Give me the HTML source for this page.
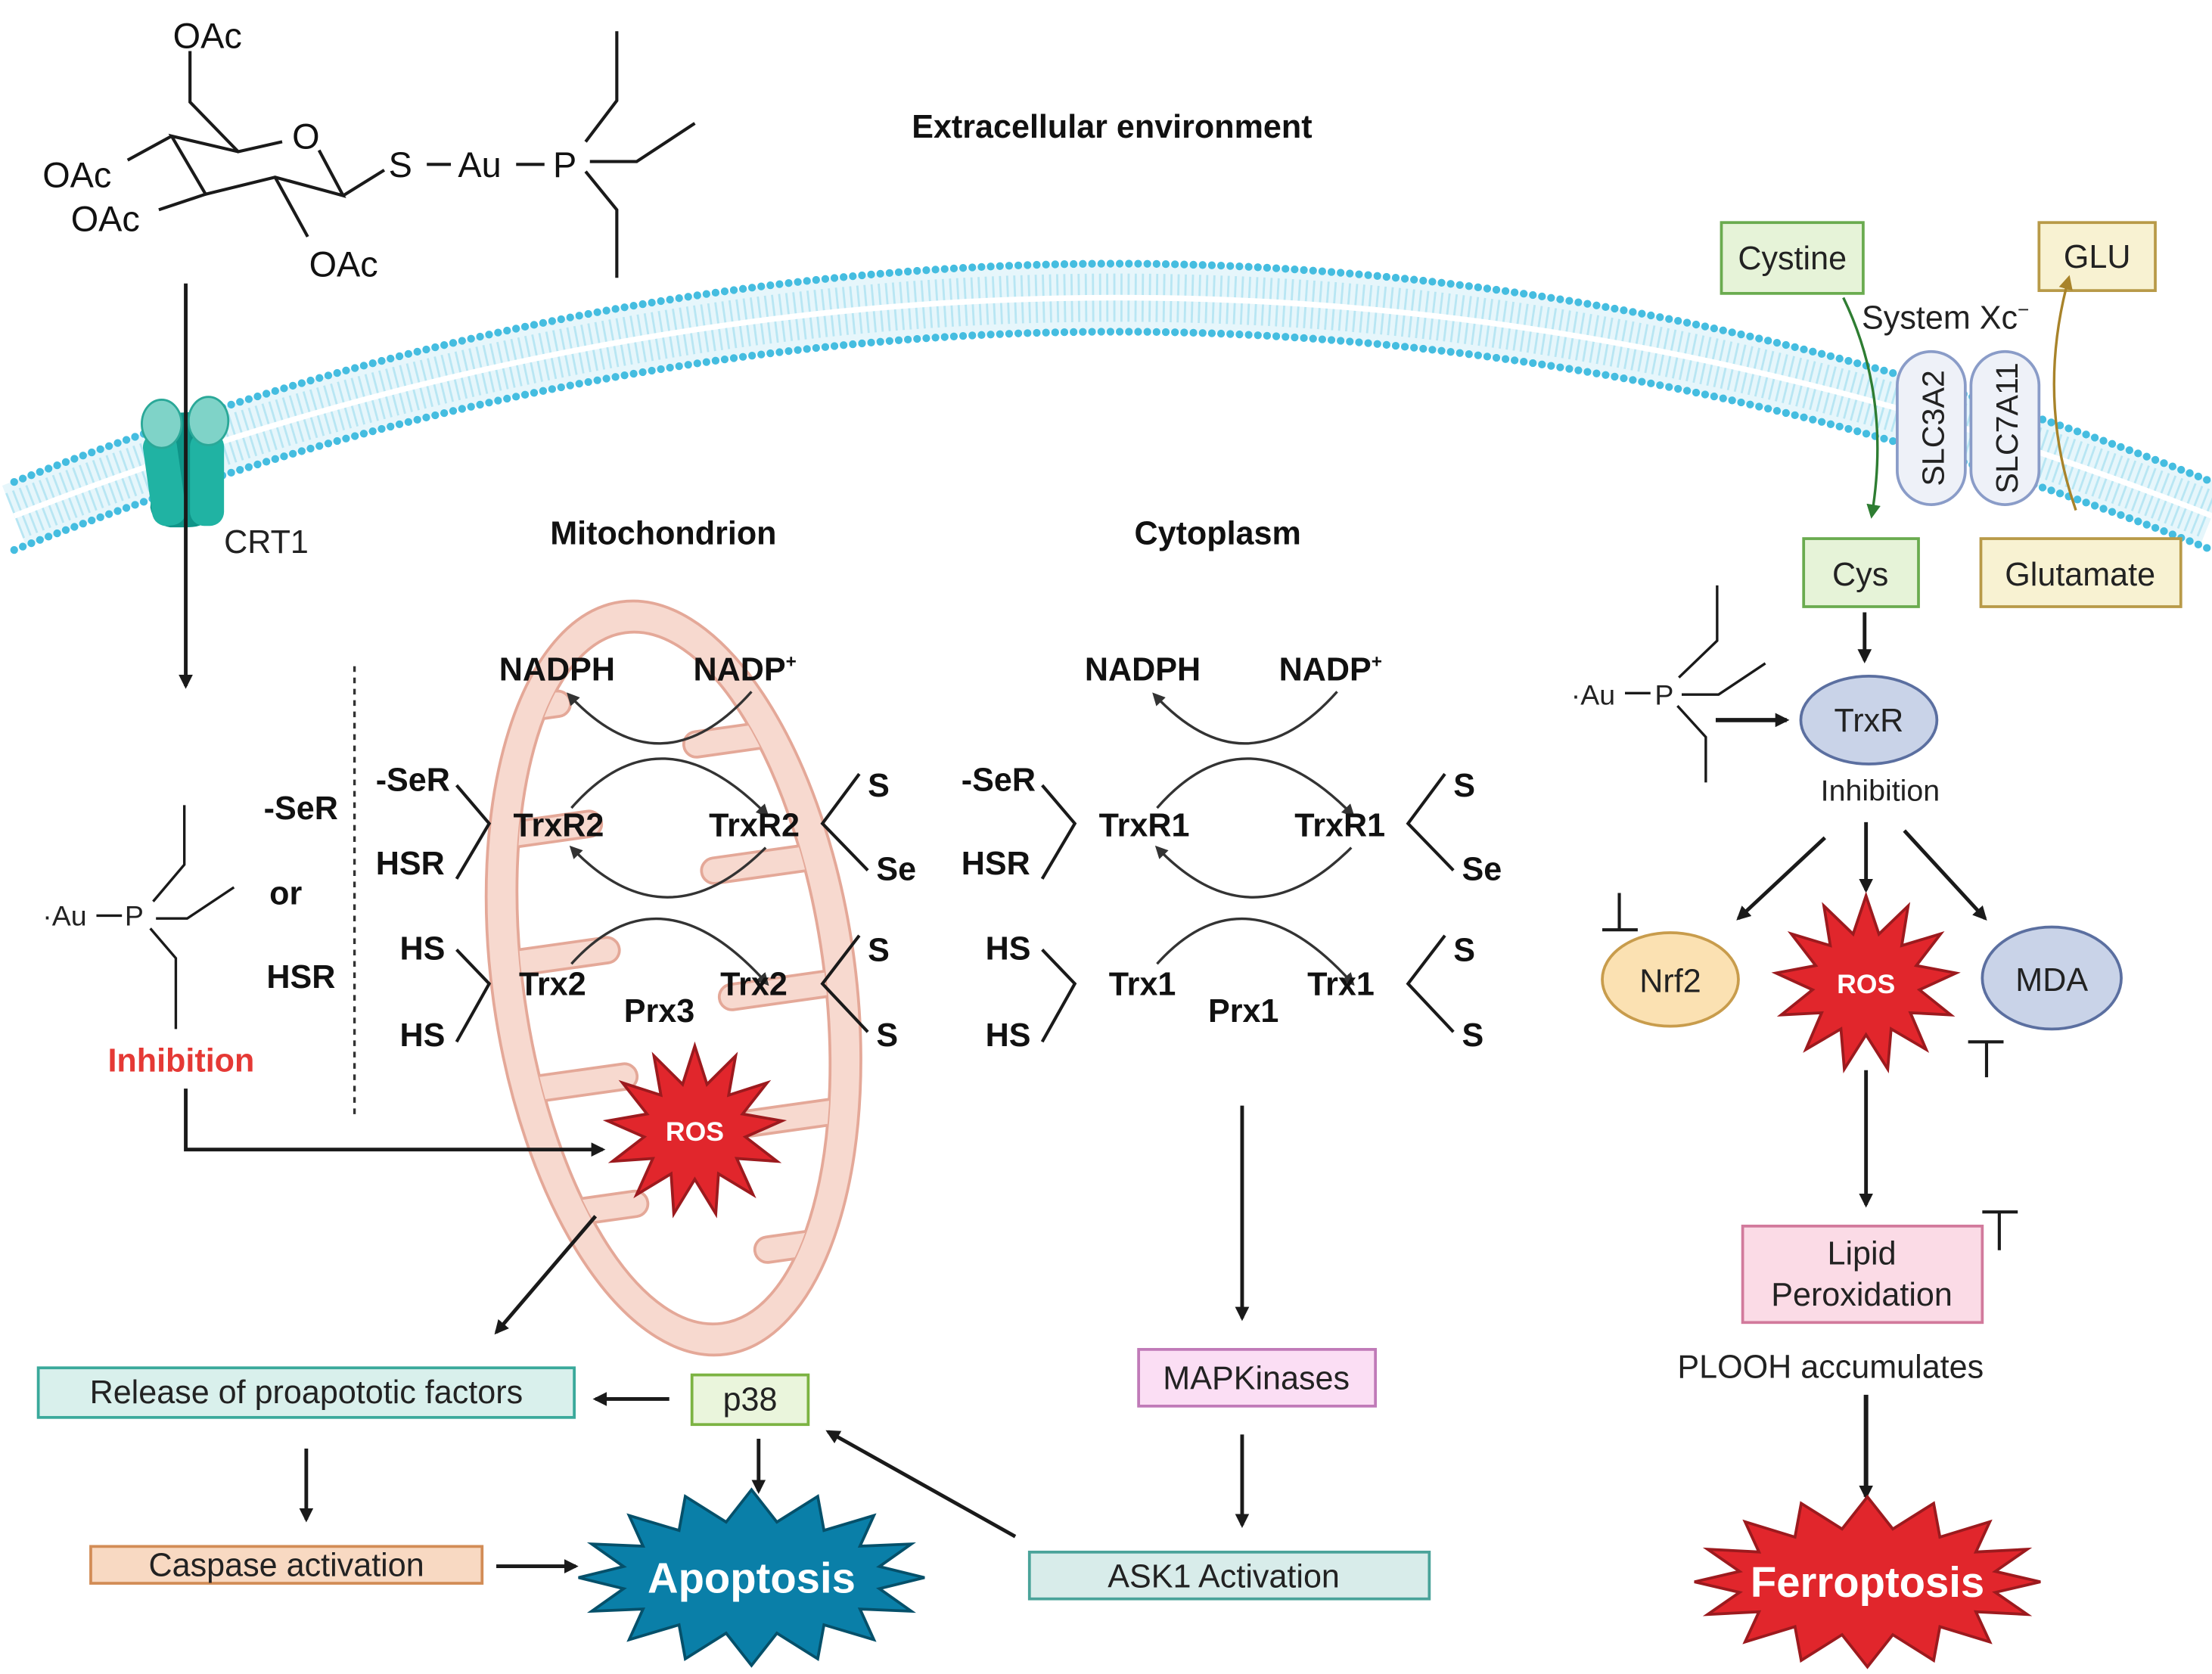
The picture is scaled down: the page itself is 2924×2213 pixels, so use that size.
<!DOCTYPE html>
<html><head><meta charset="utf-8">
<style>
html,body{margin:0;padding:0;background:#fff;}
svg{display:block;}
text{font-family:"Liberation Sans Narrow","Liberation Sans",sans-serif;}
.b{font-weight:bold;font-size:23px;fill:#111;}
.n{font-size:23px;fill:#222;}
.c{font-size:25px;fill:#111;font-family:"Liberation Sans",sans-serif;}
.ln{stroke:#1a1a1a;stroke-width:2.2;fill:none;}
.ar{stroke:#1a1a1a;stroke-width:2.6;fill:none;marker-end:url(#ah);}
.arc{stroke:#333;stroke-width:1.8;fill:none;marker-end:url(#ah2);}
</style></head><body>
<svg id="s" width="2924" height="2213" viewBox="0 0 1560 1181" preserveAspectRatio="none" xmlns="http://www.w3.org/2000/svg">
<defs>
<marker id="ah" markerWidth="10" markerHeight="10" refX="8" refY="5" orient="auto" markerUnits="userSpaceOnUse"><path d="M0,0 L10,5 L0,10 z" fill="#1a1a1a"/></marker>
<marker id="ah2" markerWidth="9" markerHeight="9" refX="7" refY="4.5" orient="auto" markerUnits="userSpaceOnUse"><path d="M0,0 L9,4.5 L0,9 z" fill="#333"/></marker>
<marker id="ahg" markerWidth="10" markerHeight="10" refX="8" refY="5" orient="auto" markerUnits="userSpaceOnUse"><path d="M0,0 L10,5 L0,10 z" fill="#2e7d32"/></marker>
<marker id="ahy" markerWidth="10" markerHeight="10" refX="8" refY="5" orient="auto" markerUnits="userSpaceOnUse"><path d="M0,0 L10,5 L0,10 z" fill="#a8832a"/></marker>
<clipPath id="mclip"><ellipse cx="475" cy="690" rx="106" ry="246"/></clipPath>
</defs>
<rect width="1560" height="1181" fill="#fff"/>

<!-- membrane -->
<path d="M10 364 Q 790 56 1560 364" stroke="#e6f6fb" stroke-width="46" fill="none"/>
<path d="M10 364 Q 790 56 1560 364" stroke="#b8e6f3" stroke-width="34" fill="none" stroke-dasharray="1.5 3.5"/>
<path d="M10 364 Q 790 56 1560 364" stroke="#fff" stroke-width="4" fill="none"/>
<path d="M10 340 Q 790 32 1560 340" stroke="#45bde0" stroke-width="5.5" fill="none" stroke-dasharray="0 6.5" stroke-linecap="round"/>
<path d="M10 388 Q 790 80 1560 388" stroke="#45bde0" stroke-width="5.5" fill="none" stroke-dasharray="0 6.5" stroke-linecap="round"/>

<!-- CRT1 -->
<path d="M112 292 L148 290 L150 360 Q148 372 132 372 L120 372 Q108 370 106 358 Z" fill="#0f9488"/>
<rect x="104" y="305" width="24" height="66" rx="10" fill="#20b3a3" transform="rotate(-8 116 338)"/>
<rect x="134" y="305" width="24" height="66" rx="10" fill="#20b3a3"/>
<ellipse cx="114" cy="299" rx="14" ry="17" fill="#7fd3c8" stroke="#2aa898" stroke-width="1.5"/>
<ellipse cx="147" cy="297" rx="14" ry="17" fill="#7fd3c8" stroke="#2aa898" stroke-width="1.5"/>
<text x="158" y="390" class="n">CRT1</text>
<line x1="131" y1="200" x2="131" y2="484" class="ar"/>

<!-- chemistry -->
<g class="ln">
<path d="M134 36 L134 72 L168 107 L199 100"/>
<path d="M225 106 L242 138 L194 125 L145 137 L121 96 L168 107"/>
<path d="M242 138 L271 120"/>
<path d="M121 96 L90 113"/><path d="M145 137 L112 148"/><path d="M194 125 L217 167"/>
<path d="M301 116 L318 116"/><path d="M364 116 L384 116"/>
<path d="M413 100 L435 71 L435 22"/><path d="M416 114 L449 114 L490 87"/><path d="M413 121 L435 148 L435 196"/>
</g>
<text x="122" y="34" class="c">OAc</text>
<text x="206" y="105" class="c">O</text>
<text x="30" y="132" class="c">OAc</text>
<text x="50" y="163" class="c">OAc</text>
<text x="218" y="195" class="c">OAc</text>
<text x="274" y="125" class="c">S</text>
<text x="323" y="125" class="c">Au</text>
<text x="390" y="125" class="c">P</text>
<text x="643" y="97" class="b" style="font-size:23px">Extracellular environment</text>

<!-- System Xc -->
<rect x="1214" y="157" width="100" height="50" fill="#e6f3d8" stroke="#6aab4f" stroke-width="2"/>
<text x="1264" y="190" class="n" text-anchor="middle">Cystine</text>
<rect x="1438" y="157" width="82" height="48" fill="#f8f2d2" stroke="#b89a48" stroke-width="2"/>
<text x="1479" y="189" class="n" text-anchor="middle">GLU</text>
<text x="1313" y="232" class="n">System Xc<tspan font-size="14" dy="-9">−</tspan></text>
<rect x="1338" y="248" width="48" height="108" rx="24" fill="#eef1f8" stroke="#8a9cc8" stroke-width="2"/>
<rect x="1390" y="248" width="48" height="108" rx="24" fill="#eef1f8" stroke="#8a9cc8" stroke-width="2"/>
<text transform="translate(1371 302) rotate(-90)" text-anchor="middle" style="font-size:22px;fill:#222;font-family:'Liberation Sans',sans-serif">SLC3A2</text>
<text transform="translate(1423 302) rotate(-90)" text-anchor="middle" style="font-size:22px;fill:#222;font-family:'Liberation Sans',sans-serif">SLC7A11</text>
<path d="M1300 210 Q1334 280 1320 364" stroke="#2e7d32" stroke-width="1.8" fill="none" marker-end="url(#ahg)"/>
<path d="M1464 360 Q1436 280 1459 196" stroke="#a8832a" stroke-width="1.8" fill="none" marker-end="url(#ahy)"/>
<rect x="1272" y="380" width="81" height="48" fill="#e6f3d8" stroke="#6aab4f" stroke-width="2"/>
<text x="1312" y="413" class="n" text-anchor="middle">Cys</text>
<rect x="1397" y="380" width="141" height="48" fill="#f8f2d2" stroke="#b89a48" stroke-width="2"/>
<text x="1467" y="413" class="n" text-anchor="middle">Glutamate</text>

<!-- right pathway -->
<line x1="1315" y1="432" x2="1315" y2="466" class="ar"/>
<ellipse cx="1318" cy="508" rx="48" ry="31" fill="#c9d3e8" stroke="#5b6fa0" stroke-width="2"/>
<text x="1318" y="516" class="n" text-anchor="middle">TrxR</text>
<text x="1326" y="565" class="n" text-anchor="middle" style="font-size:21px">Inhibition</text>
<text x="1108" y="497" class="n" style="font-size:20px">·Au</text>
<text x="1167" y="497" class="n" style="font-size:20px">P</text>
<g class="ln" style="stroke-width:1.8">
<path d="M1146 489 L1164 489"/>
<path d="M1184 478 L1211 452 L1211 413"/><path d="M1186 490 L1212 490 L1245 468"/><path d="M1183 498 L1203 520 L1203 552"/>
</g>
<line x1="1210" y1="508" x2="1260" y2="508" class="ar" style="stroke-width:3"/>
<line x1="1287" y1="591" x2="1226" y2="648" class="ar"/>
<line x1="1316" y1="580" x2="1316" y2="628" class="ar"/>
<line x1="1343" y1="586" x2="1400" y2="648" class="ar"/>
<ellipse cx="1178" cy="691" rx="48" ry="33" fill="#fbe1b2" stroke="#c89c4c" stroke-width="2"/>
<text x="1178" y="700" class="n" text-anchor="middle">Nrf2</text>
<path d="M1142 630 L1142 656 M1130 656 L1155 656" class="ln"/>
<g id="ros2"></g>
<ellipse cx="1447" cy="690" rx="49" ry="36" fill="#c9d3e8" stroke="#5b6fa0" stroke-width="2"/>
<text x="1447" y="699" class="n" text-anchor="middle">MDA</text>
<path d="M1388 735 L1413 735 M1401 735 L1401 760" class="ln"/>
<line x1="1316" y1="755" x2="1316" y2="850" class="ar"/>
<rect x="1229" y="865" width="169" height="68" fill="#fbdbe6" stroke="#d27a9c" stroke-width="2"/>
<text x="1313" y="892" class="n" text-anchor="middle">Lipid</text>
<text x="1313" y="921" class="n" text-anchor="middle">Peroxidation</text>
<path d="M1398 855 L1423 855 M1410 855 L1410 882" class="ln"/>
<text x="1183" y="972" class="n">PLOOH accumulates</text>
<line x1="1316" y1="984" x2="1316" y2="1056" class="ar" style="stroke-width:3.2"/>
<g id="ferro"></g>

<!-- mitochondrion -->
<g transform="rotate(-8 475 690)">
<ellipse cx="475" cy="690" rx="128" ry="268" fill="#f7d9cf" stroke="#e4a898" stroke-width="2"/>
<ellipse cx="475" cy="690" rx="106" ry="246" fill="#fff" stroke="#e4a898" stroke-width="2"/>
<g clip-path="url(#mclip)" fill="#f7d9cf" stroke="#e4a898" stroke-width="2">
<rect x="330" y="478" width="100" height="18" rx="9"/>
<rect x="505" y="520" width="110" height="18" rx="9"/>
<rect x="330" y="565" width="110" height="18" rx="9"/>
<rect x="505" y="610" width="110" height="18" rx="9"/>
<rect x="330" y="655" width="110" height="18" rx="9"/>
<rect x="505" y="700" width="110" height="18" rx="9"/>
<rect x="330" y="745" width="110" height="18" rx="9"/>
<rect x="505" y="790" width="110" height="18" rx="9"/>
<rect x="330" y="835" width="105" height="18" rx="9"/>
<rect x="505" y="880" width="100" height="18" rx="9"/>
</g>
</g>
<text x="388" y="384" class="b">Mitochondrion</text>
<text x="800" y="384" class="b">Cytoplasm</text>

<!-- left Au-P -->
<text x="30" y="653" class="n" style="font-size:20px">·Au</text>
<text x="88" y="653" class="n" style="font-size:20px">P</text>
<g class="ln" style="stroke-width:1.8">
<path d="M68 646 L86 646"/>
<path d="M108 636 L130 610 L130 568"/><path d="M110 648 L132 648 L165 626"/><path d="M106 655 L124 676 L124 726"/>
</g>
<text x="186" y="578" class="b">-SeR</text>
<text x="190" y="638" class="b">or</text>
<text x="188" y="697" class="b">HSR</text>
<line x1="250" y1="470" x2="250" y2="786" stroke="#333" stroke-width="1.8" stroke-dasharray="4 4"/>
<text x="76" y="756" style="font-size:23px;fill:#e53935;font-weight:bold">Inhibition</text>
<path d="M131 768 L131 811 L425 811" class="ar"/>

<!-- redox cycles -->
<g>
<text x="352" y="480" class="b">NADPH</text>
<text x="489" y="480" class="b">NADP<tspan font-size="13" dy="-9">+</tspan></text>
<path d="M530 488 Q466 560 401 490" class="arc"/>
<path d="M403 570 Q466 498 541 575" class="arc"/>
<path d="M540 598 Q470 668 403 598" class="arc"/>
<path d="M403 680 Q466 610 541 694" class="arc"/>
<text x="265" y="558" class="b">-SeR</text>
<text x="265" y="617" class="b">HSR</text>
<path d="M322 554 L345 581 L322 620" class="ln"/>
<text x="362" y="590" class="b">TrxR2</text>
<text x="500" y="590" class="b">TrxR2</text>
<path d="M606 546 L580 581 L612 614" class="ln"/>
<text x="612" y="562" class="b">S</text>
<text x="618" y="621" class="b">Se</text>
<text x="282" y="677" class="b">HS</text>
<text x="282" y="738" class="b">HS</text>
<path d="M322 670 L345 694 L322 735" class="ln"/>
<text x="366" y="702" class="b">Trx2</text>
<text x="440" y="721" class="b">Prx3</text>
<text x="508" y="702" class="b">Trx2</text>
<path d="M606 660 L580 694 L612 728" class="ln"/>
<text x="612" y="678" class="b">S</text>
<text x="618" y="738" class="b">S</text>
</g>
<g transform="translate(413 0)">
<text x="352" y="480" class="b">NADPH</text>
<text x="489" y="480" class="b">NADP<tspan font-size="13" dy="-9">+</tspan></text>
<path d="M530 488 Q466 560 401 490" class="arc"/>
<path d="M403 570 Q466 498 541 575" class="arc"/>
<path d="M540 598 Q470 668 403 598" class="arc"/>
<path d="M403 680 Q466 610 541 694" class="arc"/>
<text x="265" y="558" class="b">-SeR</text>
<text x="265" y="617" class="b">HSR</text>
<path d="M322 554 L345 581 L322 620" class="ln"/>
<text x="362" y="590" class="b">TrxR1</text>
<text x="500" y="590" class="b">TrxR1</text>
<path d="M606 546 L580 581 L612 614" class="ln"/>
<text x="612" y="562" class="b">S</text>
<text x="618" y="621" class="b">Se</text>
<text x="282" y="677" class="b">HS</text>
<text x="282" y="738" class="b">HS</text>
<path d="M322 670 L345 694 L322 735" class="ln"/>
<text x="369" y="702" class="b">Trx1</text>
<text x="439" y="721" class="b">Prx1</text>
<text x="509" y="702" class="b">Trx1</text>
<path d="M606 660 L580 694 L612 728" class="ln"/>
<text x="612" y="678" class="b">S</text>
<text x="618" y="738" class="b">S</text>
</g>

<g id="ros1"></g>

<!-- bottom left -->
<line x1="420" y1="858" x2="350" y2="940" class="ar"/>
<rect x="27" y="965" width="378" height="35" fill="#d9f0ec" stroke="#3aa99b" stroke-width="2"/>
<text x="216" y="990" class="n" text-anchor="middle">Release of proapototic factors</text>
<rect x="488" y="970" width="82" height="35" fill="#eaf5dc" stroke="#7cb342" stroke-width="2"/>
<text x="529" y="995" class="n" text-anchor="middle">p38</text>
<line x1="472" y1="987" x2="420" y2="987" class="ar"/>
<line x1="216" y1="1022" x2="216" y2="1072" class="ar"/>
<rect x="64" y="1091" width="276" height="26" fill="#f8d9c2" stroke="#d28c56" stroke-width="2"/>
<text x="202" y="1112" class="n" text-anchor="middle">Caspase activation</text>
<line x1="350" y1="1105" x2="406" y2="1105" class="ar"/>
<line x1="535" y1="1015" x2="535" y2="1052" class="ar"/>
<g id="apop"></g>
<line x1="716" y1="1084" x2="584" y2="1010" class="ar"/>
<rect x="726" y="1095" width="282" height="33" fill="#d8ecea" stroke="#4aa39a" stroke-width="2"/>
<text x="863" y="1120" class="n" text-anchor="middle">ASK1 Activation</text>
<line x1="876" y1="780" x2="876" y2="930" class="ar"/>
<rect x="803" y="952" width="167" height="40" fill="#fbdef4" stroke="#c07ab8" stroke-width="2"/>
<text x="886" y="980" class="n" text-anchor="middle">MAPKinases</text>
<line x1="876" y1="1012" x2="876" y2="1076" class="ar"/>
</svg>
<script>
function star(id,cx,cy,rx,ry,irx,iry,n,fill,stroke,label,fs){
 var g=document.getElementById(id),p=[];
 for(var i=0;i<2*n;i++){var a=Math.PI*i/n-Math.PI/2;var o=i%2==0;
  p.push((cx+(o?rx:irx)*Math.cos(a)).toFixed(1)+','+(cy+(o?ry:iry)*Math.sin(a)).toFixed(1));}
 var ns='http://www.w3.org/2000/svg';
 var pg=document.createElementNS(ns,'polygon');pg.setAttribute('points',p.join(' '));
 pg.setAttribute('fill',fill);pg.setAttribute('stroke',stroke);pg.setAttribute('stroke-width','2');g.appendChild(pg);
 var t=document.createElementNS(ns,'text');t.setAttribute('x',cx);t.setAttribute('y',cy+fs*0.35);
 t.setAttribute('text-anchor','middle');t.setAttribute('style','fill:#fff;font-weight:bold;font-size:'+fs+'px');
 t.textContent=label;g.appendChild(t);
}
star('ros1',490,798,62,60,36,34,13,'#e1262c','#9c1a1e','ROS',19);
star('ros2',1316,694,64,62,38,36,13,'#e1262c','#9c1a1e','ROS',19);
star('apop',530,1113,122,62,92,40,16,'#0a7fa8','#05506a','Apoptosis',30);
star('ferro',1317,1116,122,60,92,38,16,'#e1262c','#9c1a1e','Ferroptosis',30);
</script>
</body></html>
